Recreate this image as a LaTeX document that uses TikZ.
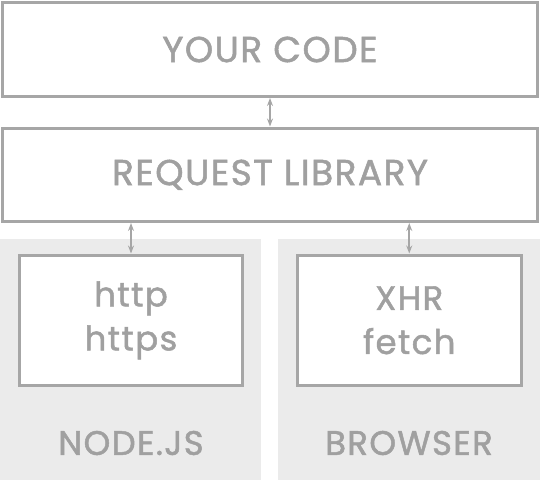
\documentclass[tikz,border=0pt]{standalone}
\usepackage{fontspec}
\newfontfamily\inkfont[FakeBold=1.4, LetterSpace=4]{Poppins}
\usetikzlibrary{arrows.meta}
\definecolor{edge}{HTML}{A6A6A6}
\definecolor{ink}{HTML}{A0A0A0}
\definecolor{panel}{HTML}{EBEBEB}
\tikzset{
  box/.style={draw=edge, line width=3pt, fill=white, inner sep=0pt, text=ink},
  panelbox/.style={fill=panel, draw=none, inner sep=0pt},
  bigtxt/.style={text=ink, font=\inkfont\fontsize{36}{44}\selectfont},
  smalltxt/.style={text=ink, font=\inkfont\fontsize{34}{44}\selectfont, align=center},
  link/.style={draw=edge, line width=1.6pt, {Stealth[length=8pt,width=6pt]}-{Stealth[length=8pt,width=6pt]}},
}
\begin{document}
\begin{tikzpicture}[x=1pt,y=-1pt]
\useasboundingbox (0,0) rectangle (540,480);
% panels
\node[panelbox, minimum width=261pt, minimum height=241pt, anchor=north west] (leftpanel) at (0,239) {};
\node[panelbox, minimum width=262pt, minimum height=241pt, anchor=north west] (rightpanel) at (278,239) {};
% main boxes
\node[box, bigtxt, minimum width=535pt, minimum height=94pt] (code) at (270,49.5) {YOUR CODE};
\node[box, bigtxt, minimum width=535pt, minimum height=93.5pt] (lib) at (270,174.75) {REQUEST LIBRARY};
\node[box, smalltxt, minimum width=223pt, minimum height=130.5pt] (nodeimpl) at (131,320.25) {http\\https};
\node[box, smalltxt, minimum width=223.5pt, minimum height=130.5pt] (browserimpl) at (409.25,320.25) {XHR\\fetch};
% labels
\node[smalltxt] (nodelabel) at (131,443) {NODE.JS};
\node[smalltxt] (browserlabel) at (409,443) {BROWSER};
% connectors
\draw[link] (code.south) -- (lib.north);
\draw[link] (lib.south -| nodeimpl.north) -- (nodeimpl.north);
\draw[link] (lib.south -| browserimpl.north) -- (browserimpl.north);
\end{tikzpicture}
\end{document}
